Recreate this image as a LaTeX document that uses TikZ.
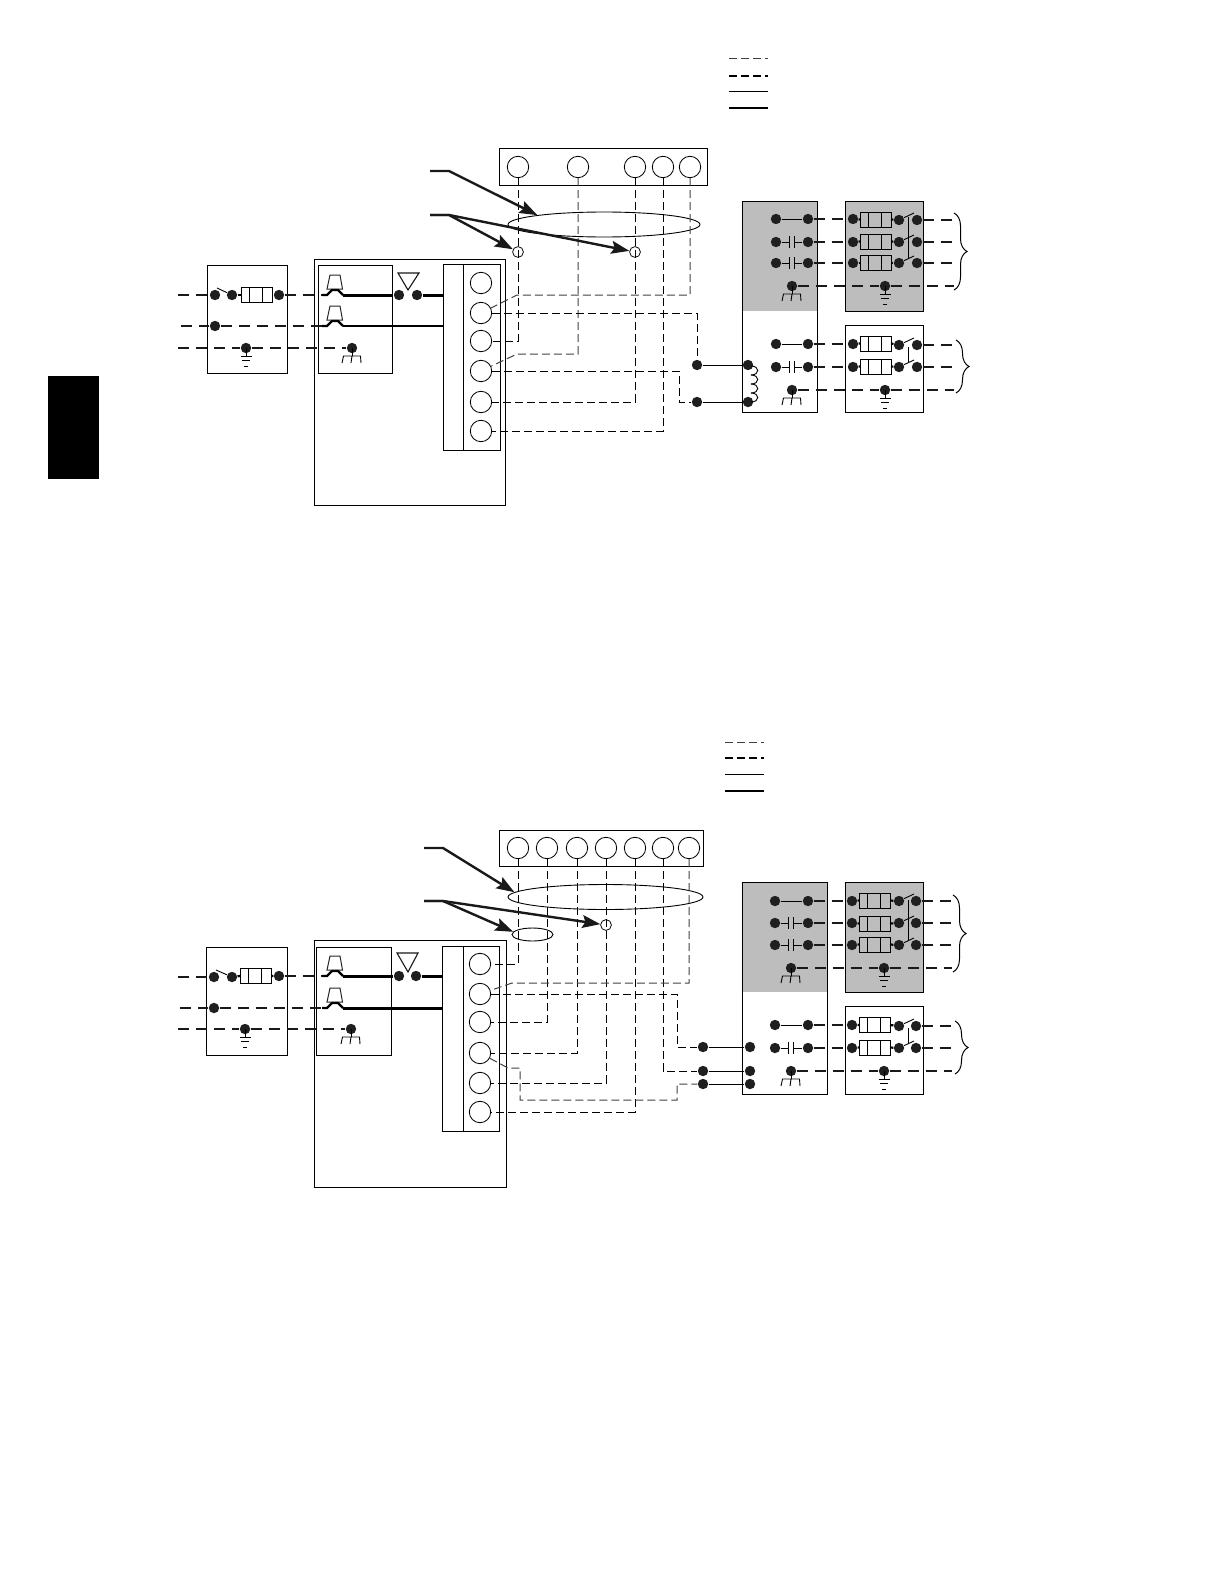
\documentclass[tikz,border=0pt]{standalone}
\usetikzlibrary{arrows.meta,shapes.geometric,decorations.pathreplacing}
\definecolor{panelgray}{gray}{.74}
\tikzset{
    dotn/.style={circle,fill=black!88,inner sep=0,minimum size=5.2pt},
    terminal/.style={circle,draw,inner sep=0,minimum size=10.7pt,line width=.42pt},
    ringn/.style={circle,draw,inner sep=0,minimum size=5.4pt,line width=.38pt},
    ovaln/.style={ellipse,draw,inner sep=0,line width=.45pt},
    thinline/.style={line width=.45pt},
    midline/.style={line width=1.1pt},
    wiren/.style={line width=.42pt,dash pattern=on 4pt off 2pt},
    wireg/.style={line width=.5pt,dash pattern=on 4pt off 2pt,black!75},
    heavyn/.style={line width=1.45pt,dash pattern=on 5.5pt off 3.5pt,black!90},
    pointer/.style={line width=1.2pt,black!90,-{Stealth[length=9pt,width=6.4pt,inset=1.5pt]}},
    bracen/.style={line width=.5pt,decorate,decoration={brace,amplitude=6.5pt}},
    pics/fusen/.style={code={
        \draw[thinline] (0,-7.5) rectangle (31,7.5);
        \draw[thinline] (8.5,-7.5) -- (8.5,7.5) (21.5,-7.5) -- (21.5,7.5);
        \coordinate (-l) at (0,0);
        \coordinate (-r) at (31,0);
    }},
    pics/capn/.style={code={
        \draw[thinline] (-2.5,-6) -- (-2.5,6) (2.5,-6) -- (2.5,6);
        \coordinate (-l) at (-2.5,0);
        \coordinate (-r) at (2.5,0);
    }},
    pics/earthn/.style={code={
        \draw[thinline] (0,0) -- (0,8);
        \draw[thinline] (-5.5,8) -- (5.5,8) (-4,12.5) -- (4,12.5) (-2,18) -- (2,18);
    }},
    pics/chassisn/.style={code={
        \draw[thinline] (0,0) -- (0,8);
        \draw[thinline] (-10,15) -- (-8.5,8) -- (8.5,8) -- (9,15) (0,8) -- (-1,15);
    }},
    pics/plugn/.style={code={
        \draw[line width=.5pt,black!85] (0,-6) -- (3,-20) -- (13,-20) -- (15.5,-6) -- cycle;
        \draw[line width=1.1pt] (-5,0) -- (0,0) -- (5,-5) -- (11,-5) -- (16,0);
        \coordinate (-in) at (-5,0);
        \coordinate (-out) at (16,0);
    }},
}
\begin{document}
\begin{tikzpicture}[x=.5pt,y=-.5pt]
    \useasboundingbox (0,0) rectangle (1224,1584);
    %side tab
    \fill[black] (48,376) rectangle (99,479);

    %top legend
    \draw[wireg] (729,59) -- +(39,0);
    \draw[line width=1.1pt,dash pattern=on 4pt off 2pt] (729,76) -- +(39,0);
    \draw[thinline] (729,91) -- +(39,0);
    \draw[line width=1.2pt] (729,108) -- +(39,0);

    %top boxes
    \fill[panelgray] (742,201) rectangle (817,311);
    \draw[thinline,fill=panelgray] (845,201) rectangle (923,311);
    \draw[thinline] (742,201) rectangle (817,412);
    \draw[thinline] (845,325) rectangle (923,412);
    \draw[thinline] (499,148) rectangle (707,185);
    \draw[thinline] (207,265) rectangle (287,373);
    \draw[thinline] (314,259) rectangle (505,505);
    \draw[thinline] (318,265) rectangle (392,373);
    \draw[thinline] (443,264) rectangle (463,450);
    \draw[thinline] (463,264) rectangle (500,450);

    %top terminals
    \foreach \nm/\xx in {ts1/518,ts2/578,ts3/635,ts4/663,ts5/690}
        \node[terminal] (\nm) at (\xx,167) {};
    \foreach \nm/\yy in {tj1/283,tj2/313,tj3/341,tj4/371,tj5/402,tj6/431}
        \node[terminal] (\nm) at (481,\yy) {};
    \node[ringn] (tc1) at (518,252) {};
    \node[ringn] (tc2) at (635,252) {};
    \node[ovaln,minimum width=96pt,minimum height=12.5pt] (toval) at (604,224.5) {};

    %top dots
    \foreach \nm/\xx/\yy in {ta1/215/295,ta2/232/295,ta3/279/295,ta4/215/326,ta5/246/348,
        tb1/399/295,tb2/417/295,tb3/352/348,
        tk1/697/365,tk2/697/402,tk3/748/365,tk4/748/402,
        tp1/776/219,tp2/808/219,tq1/776/242,tq2/808/242,tr1/776/263,tr2/808/263,tg1/792/286,
        ts6/853/219,ts7/899/220,ts8/917/220,tt1/853/242,tt2/899/242,tt3/917/242,
        tv1/853/263,tv2/899/263,tv3/917/263,tg2/885/286,
        tw1/776/344,tw2/808/344,tx1/776/367,tx2/808/367,tg3/792/390,
        ty1/853/344,ty2/899/345,ty3/917/345,tz1/853/367,tz2/899/367,tz3/917/367,tg4/885/390}
        \node[dotn] (\nm) at (\xx,\yy) {};

    %top free ends
    \coordinate (tin1) at (178,295);
    \coordinate (tin2) at (181,326);
    \coordinate (tin3) at (178,348);
    \coordinate (tpan1) at (443,295);
    \coordinate (tpan2) at (443,326);
    \coordinate (tlab1) at (430,171);
    \coordinate (tkn1) at (449,171);
    \coordinate (tlab2) at (430,215);
    \coordinate (tkn2) at (449,215);
    \coordinate (tbend1) at (517,295);
    \coordinate (tbend2) at (517,354);
    \coordinate (tbend3) at (679,402);
    \foreach \nm/\yy in {to1/220,to2/242,to3/263,to4/286,to5/345,to6/367,to7/390}
        \coordinate (\nm) at (954,\yy);

    %top symbols
    \pic (tf0) at (241,295) {fusen};
    \pic (tf1) at (860,219.5) {fusen};
    \pic (tf2) at (860,241.5) {fusen};
    \pic (tf3) at (860,263) {fusen};
    \pic (tf4) at (860,343.5) {fusen};
    \pic (tf5) at (860,366.5) {fusen};
    \pic (tcap1) at (791.5,242) {capn};
    \pic (tcap2) at (791.5,263) {capn};
    \pic (tcap3) at (791.5,367) {capn};
    \pic (tpl1) at (327,295) {plugn};
    \pic (tpl2) at (327,326) {plugn};
    \pic at (246,348) {earthn};
    \pic at (885,286) {earthn};
    \pic at (885,390) {earthn};
    \pic at (352,348) {chassisn};
    \pic at (792,286) {chassisn};
    \pic at (792,390) {chassisn};
    \draw[black!90,line width=.55pt] (408,290) -- (398,273) -- (419,273) -- cycle;

    %top power lines
    \draw[heavyn] (tin1) -- (ta1);
    \draw[heavyn] (tin2) -- (ta4) -- (tpl2-in);
    \draw[heavyn] (tin3) -- (ta5) -- (tb3);
    \draw[heavyn] (ta3) -- (tpl1-in);
    \draw[midline] (ta2) -- (tf0-l) (tf0-r) -- (ta3);
    \draw[thinline] (217,288) -- (ta2);
    \draw[line width=1.5pt] (tpl1-out) -- (tb1);
    \draw[line width=1.5pt] (tb2) -- (tpan1);
    \draw[line width=1.1pt] (tpl2-out) -- (tpan2);

    %top outdoor lines
    \draw[thinline] (tp1) -- (tp2);
    \draw[thinline] (tw1) -- (tw2);
    \draw[thinline] (tq1) -- (tcap1-l) (tcap1-r) -- (tq2);
    \draw[thinline] (tr1) -- (tcap2-l) (tcap2-r) -- (tr2);
    \draw[thinline] (tx1) -- (tcap3-l) (tcap3-r) -- (tx2);
    \draw[heavyn] (tp2) -- (ts6);
    \draw[heavyn] (tq2) -- (tt1);
    \draw[heavyn] (tr2) -- (tv1);
    \draw[heavyn] (tw2) -- (ty1);
    \draw[heavyn] (tx2) -- (tz1);
    \draw[heavyn] (tg1) -- (tg2) -- (to4);
    \draw[heavyn] (tg3) -- (tg4) -- (to7);
    \draw[heavyn] (ts8) -- (to1);
    \draw[heavyn] (tt3) -- (to2);
    \draw[heavyn] (tv3) -- (to3);
    \draw[heavyn] (ty3) -- (to5);
    \draw[heavyn] (tz3) -- (to6);
    \foreach \aa/\ff/\bb in {ts6/tf1/ts7,tt1/tf2/tt2,tv1/tf3/tv2,ty1/tf4/ty2,tz1/tf5/tz2}{
        \draw[midline] (\aa) -- (\ff-l) (\ff-r) -- (\bb);
        \draw[thinline] (\bb) -- +(15,-7);
    }
    \draw[thinline] (908,217) -- (908,258);
    \draw[thinline] (908,347) -- (908,363);
    \draw[bracen] (954,213) -- (954,290);
    \draw[bracen] (956,340) -- (956,393);

    %top coil
    \draw[thinline] (tk1) -- (tk3);
    \draw[thinline] (tk2) -- (tk4);
    \foreach \yy in {366,375,384,393}
        \draw[thinline] (751,\yy) .. controls (760,\yy) and (760,\yy+9) .. (751,\yy+9);

    %top control wires
    \draw[wiren] (ts1) |- (tj3);
    \draw[wireg] (ts2) |- (tbend2) -- (tj4);
    \draw[wiren] (ts3) |- (tj5);
    \draw[wiren] (ts4) |- (tj6);
    \draw[wireg] (ts5) |- (tbend1) -- (tj2);
    \draw[wiren] (tj2) -| (tk1);
    \draw[wiren] (tj4) -| (tbend3) -- (tk2);

    %top pointers
    \draw[pointer] (tlab1) -- (tkn1) -- (toval.172);
    \draw[pointer] (tlab2) -- (tkn2) -- (tc1);
    \draw[pointer] (tlab2) -- (tkn2) -- (tc2);

    %bottom legend
    \draw[wireg] (725,742) -- +(39,0);
    \draw[line width=1.1pt,dash pattern=on 4pt off 2pt] (725,758) -- +(39,0);
    \draw[thinline] (725,774) -- +(39,0);
    \draw[line width=1.2pt] (725,791) -- +(39,0);

    %bottom boxes
    \fill[panelgray] (742,882) rectangle (827,992);
    \draw[thinline,fill=panelgray] (845,882) rectangle (923,992);
    \draw[thinline] (742,882) rectangle (827,1094);
    \draw[thinline] (845,1006) rectangle (923,1094);
    \draw[thinline] (499,830) rectangle (703,866);
    \draw[thinline] (206,947) rectangle (287,1055);
    \draw[thinline] (314,940) rectangle (506,1187);
    \draw[thinline] (316,947) rectangle (391,1055);
    \draw[thinline] (442,946) rectangle (463,1131);
    \draw[thinline] (463,946) rectangle (499,1131);

    %bottom terminals
    \foreach \nm/\xx in {bs1/518,bs2/547,bs3/577,bs4/606,bs5/635,bs6/663,bs7/689}
        \node[terminal] (\nm) at (\xx,848) {};
    \foreach \nm/\yy in {bj1/964,bj2/994,bj3/1022,bj4/1053,bj5/1083,bj6/1112}
        \node[terminal] (\nm) at (480,\yy) {};
    \node[ringn] (bc1) at (606,925) {};
    \node[ovaln,minimum width=97.5pt,minimum height=12.5pt] (boval1) at (605.5,897) {};
    \node[ovaln,minimum width=20.5pt,minimum height=6.5pt] (boval2) at (532.5,934.5) {};

    %bottom dots
    \foreach \nm/\xx/\yy in {ba1/214/977,ba2/232/977,ba3/279/976,ba4/214/1008,ba5/245/1029,
        bb1/399/976,bb2/416/976,bb3/351/1029,
        bk1/703/1047,bk2/703/1071,bk3/703/1084,bl1/750/1047,bl2/750/1071,bl3/750/1084,
        bp1/775/901,bp2/808/901,bq1/775/923,bq2/808/923,br1/775/945,br2/808/945,bg1/791/968,
        bs8/852/901,bs9/899/901,bs10/916/901,bt1/852/923,bt2/899/923,bt3/916/923,
        bv1/852/945,bv2/899/945,bv3/916/945,bg2/884/968,
        bw1/775/1025,bw2/808/1025,bx1/775/1048,bx2/808/1048,bg3/791/1071,
        by1/852/1025,by2/899/1026,by3/916/1026,bz1/852/1048,bz2/899/1048,bz3/916/1048,bg4/884/1071}
        \node[dotn] (\nm) at (\xx,\yy) {};

    %bottom free ends
    \coordinate (bin1) at (178,977);
    \coordinate (bin2) at (180,1008);
    \coordinate (bin3) at (178,1029);
    \coordinate (bpan1) at (442,976);
    \coordinate (bpan2) at (442,1008);
    \coordinate (blab1) at (424,848);
    \coordinate (bkn1) at (443,848);
    \coordinate (blab2) at (424,901);
    \coordinate (bkn2) at (443,901);
    \coordinate (bbend1) at (512,983);
    \coordinate (bbend2) at (677,1047);
    \foreach \nm/\yy in {bo1/901,bo2/923,bo3/945,bo4/968,bo5/1026,bo6/1048,bo7/1071}
        \coordinate (\nm) at (952,\yy);

    %bottom symbols
    \pic (bf0) at (240,976) {fusen};
    \pic (bf1) at (859,900.5) {fusen};
    \pic (bf2) at (859,923.5) {fusen};
    \pic (bf3) at (859,944.5) {fusen};
    \pic (bf4) at (859,1025) {fusen};
    \pic (bf5) at (859,1047.5) {fusen};
    \pic (bcap1) at (791,923) {capn};
    \pic (bcap2) at (791,945) {capn};
    \pic (bcap3) at (791,1048) {capn};
    \pic (bpl1) at (327,976) {plugn};
    \pic (bpl2) at (327,1008) {plugn};
    \pic at (245,1029) {earthn};
    \pic at (884,968) {earthn};
    \pic at (884,1071) {earthn};
    \pic at (351,1029) {chassisn};
    \pic at (791,968) {chassisn};
    \pic at (791,1071) {chassisn};
    \draw[black!90,line width=.55pt] (408,972) -- (397,953) -- (418,953) -- cycle;

    %bottom power lines
    \draw[heavyn] (bin1) -- (ba1);
    \draw[heavyn] (bin2) -- (ba4) -- (bpl2-in);
    \draw[heavyn] (bin3) -- (ba5) -- (bb3);
    \draw[heavyn] (ba3) -- (bpl1-in);
    \draw[midline] (ba2) -- (bf0-l) (bf0-r) -- (ba3);
    \draw[thinline] (216,970) -- (ba2);
    \draw[line width=1.5pt] (bpl1-out) -- (bb1);
    \draw[line width=1.5pt] (bb2) -- (bpan1);
    \draw[line width=1.5pt] (bpl2-out) -- (bpan2);

    %bottom outdoor lines
    \draw[thinline] (bp1) -- (bp2);
    \draw[thinline] (bw1) -- (bw2);
    \draw[thinline] (bq1) -- (bcap1-l) (bcap1-r) -- (bq2);
    \draw[thinline] (br1) -- (bcap2-l) (bcap2-r) -- (br2);
    \draw[thinline] (bx1) -- (bcap3-l) (bcap3-r) -- (bx2);
    \draw[heavyn] (bp2) -- (bs8);
    \draw[heavyn] (bq2) -- (bt1);
    \draw[heavyn] (br2) -- (bv1);
    \draw[heavyn] (bw2) -- (by1);
    \draw[heavyn] (bx2) -- (bz1);
    \draw[heavyn] (bg1) -- (bg2) -- (bo4);
    \draw[heavyn] (bg3) -- (bg4) -- (bo7);
    \draw[heavyn] (bs10) -- (bo1);
    \draw[heavyn] (bt3) -- (bo2);
    \draw[heavyn] (bv3) -- (bo3);
    \draw[heavyn] (by3) -- (bo5);
    \draw[heavyn] (bz3) -- (bo6);
    \foreach \aa/\ff/\bb in {bs8/bf1/bs9,bt1/bf2/bt2,bv1/bf3/bv2,by1/bf4/by2,bz1/bf5/bz2}{
        \draw[midline] (\aa) -- (\ff-l) (\ff-r) -- (\bb);
        \draw[thinline] (\bb) -- +(15,-7);
    }
    \draw[thinline] (908,900) -- (908,940);
    \draw[thinline] (908,1028) -- (908,1044);
    \draw[bracen] (953,895) -- (953,972);
    \draw[bracen] (955,1021) -- (955,1074);

    %bottom contactor lines
    \draw[thinline] (bk1) -- (bl1);
    \draw[thinline] (bk2) -- (bl2);
    \draw[thinline] (bk3) -- (bl3);

    %bottom control wires
    \draw[wiren] (bs1) |- (bj1);
    \draw[wiren] (bs2) |- (bj3);
    \draw[wiren] (bs3) |- (bj4);
    \draw[wiren] (bs4) |- (bj5);
    \draw[wiren] (bs5) |- (bj6);
    \draw[wiren] (bs6) |- (bk2);
    \draw[wireg] (bs7) |- (bbend1) -- (bj2);
    \draw[wiren] (bj2) -| (bbend2) -- (bk1);
    \draw[wireg] (bj4) -- (508,1068) -- (520,1068) -- (520,1100) -- (677,1100) -- (677,1084) -- (bk3);

    %bottom pointers
    \draw[pointer] (blab1) -- (bkn1) -- (boval1.177);
    \draw[pointer] (blab2) -- (bkn2) -- (boval2.172);
    \draw[pointer] (blab2) -- (bkn2) -- (bc1);
    \end{tikzpicture}
\end{document}
